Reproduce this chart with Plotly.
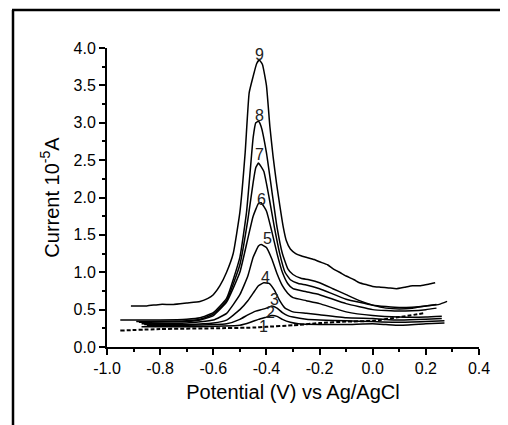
import plotly.graph_objects as go

# curve data (potential V, current 1e-5 A)
x1 = [-0.95, -0.8, -0.6, -0.45, -0.4, -0.3, -0.2, -0.1, 0.0, 0.1, 0.19]
y1 = [0.22, 0.24, 0.25, 0.26, 0.27, 0.29, 0.32, 0.34, 0.35, 0.40, 0.45]

x2 = [-0.87, -0.7, -0.5, -0.46, -0.43, -0.4, -0.38, -0.36, -0.34, -0.31, -0.28, -0.2, -0.1, 0.0, 0.05, 0.1, 0.2, 0.27]
y2 = [0.27, 0.27, 0.29, 0.33, 0.37, 0.40, 0.42, 0.41, 0.37, 0.33, 0.31, 0.30, 0.30, 0.31, 0.30, 0.29, 0.31, 0.32]

x3 = [-0.85, -0.7, -0.55, -0.5, -0.47, -0.44, -0.42, -0.4, -0.38, -0.36, -0.34, -0.32, -0.3, -0.25, -0.2, -0.1, 0.0, 0.1, 0.2, 0.27]
y3 = [0.29, 0.29, 0.31, 0.37, 0.43, 0.48, 0.50, 0.52, 0.55, 0.52, 0.46, 0.42, 0.40, 0.37, 0.36, 0.35, 0.34, 0.33, 0.34, 0.35]

x4 = [-0.86, -0.7, -0.6, -0.55, -0.5, -0.47, -0.45, -0.43, -0.41, -0.39, -0.37, -0.35, -0.33, -0.3, -0.25, -0.2, -0.1, 0.0, 0.1, 0.2, 0.26]
y4 = [0.30, 0.30, 0.32, 0.36, 0.50, 0.62, 0.72, 0.82, 0.86, 0.85, 0.76, 0.62, 0.52, 0.47, 0.45, 0.43, 0.39, 0.38, 0.36, 0.37, 0.38]

x5 = [-0.87, -0.7, -0.6, -0.55, -0.5, -0.47, -0.45, -0.43, -0.42, -0.4, -0.38, -0.36, -0.34, -0.32, -0.3, -0.25, -0.2, -0.1, 0.0, 0.1, 0.2, 0.26]
y5 = [0.31, 0.32, 0.36, 0.45, 0.70, 0.95, 1.20, 1.35, 1.37, 1.33, 1.18, 0.98, 0.82, 0.72, 0.66, 0.62, 0.58, 0.47, 0.42, 0.40, 0.40, 0.41]

x6 = [-0.88, -0.7, -0.65, -0.6, -0.55, -0.5, -0.47, -0.45, -0.43, -0.42, -0.4, -0.38, -0.36, -0.34, -0.32, -0.3, -0.25, -0.2, -0.1, 0.0, 0.1, 0.2, 0.24]
y6 = [0.33, 0.34, 0.36, 0.42, 0.60, 1.00, 1.45, 1.75, 1.92, 1.93, 1.82, 1.55, 1.25, 1.00, 0.85, 0.78, 0.74, 0.70, 0.58, 0.50, 0.48, 0.50, 0.52]

x7 = [-0.89, -0.7, -0.65, -0.6, -0.55, -0.5, -0.47, -0.45, -0.44, -0.43, -0.41, -0.39, -0.37, -0.35, -0.33, -0.31, -0.28, -0.25, -0.2, -0.1, 0.0, 0.1, 0.2, 0.24]
y7 = [0.34, 0.35, 0.37, 0.44, 0.62, 1.10, 1.70, 2.20, 2.40, 2.46, 2.35, 2.00, 1.60, 1.25, 1.00, 0.90, 0.85, 0.83, 0.78, 0.64, 0.56, 0.53, 0.55, 0.57]

x8 = [-0.95, -0.8, -0.7, -0.65, -0.6, -0.55, -0.5, -0.475, -0.46, -0.45, -0.44, -0.43, -0.42, -0.4, -0.38, -0.36, -0.34, -0.32, -0.3, -0.27, -0.24, -0.2, -0.15, -0.1, -0.05, 0.0, 0.05, 0.1, 0.15, 0.2, 0.25, 0.28]
y8 = [0.36, 0.36, 0.37, 0.39, 0.46, 0.65, 1.20, 1.80, 2.40, 2.80, 3.00, 3.02, 2.95, 2.60, 2.10, 1.60, 1.25, 1.05, 0.97, 0.92, 0.90, 0.86, 0.78, 0.70, 0.62, 0.56, 0.52, 0.51, 0.52, 0.55, 0.57, 0.61]

x9 = [-0.91, -0.85, -0.8, -0.75, -0.7, -0.65, -0.62, -0.6, -0.575, -0.55, -0.525, -0.5, -0.48, -0.465, -0.45, -0.437, -0.427, -0.415, -0.4, -0.387, -0.375, -0.362, -0.35, -0.337, -0.325, -0.31, -0.29, -0.27, -0.25, -0.22, -0.2, -0.17, -0.15, -0.12, -0.1, -0.07, -0.05, -0.02, 0.0, 0.03, 0.06, 0.09, 0.12, 0.15, 0.18, 0.21, 0.235]
y9 = [0.55, 0.55, 0.57, 0.57, 0.59, 0.61, 0.65, 0.70, 0.82, 1.00, 1.25, 1.80, 2.60, 3.40, 3.62, 3.79, 3.84, 3.78, 3.50, 2.95, 2.55, 2.19, 1.90, 1.61, 1.42, 1.31, 1.25, 1.22, 1.20, 1.17, 1.14, 1.10, 1.05, 0.99, 0.95, 0.90, 0.86, 0.83, 0.81, 0.80, 0.79, 0.78, 0.80, 0.82, 0.82, 0.84, 0.86]

label_text = ["1", "2", "3", "4", "5", "6", "7", "8", "9"]
label_x = [-0.41, -0.385, -0.37, -0.405, -0.395, -0.42, -0.427, -0.427, -0.425]
label_y = [0.27, 0.46, 0.63, 0.93, 1.45, 1.98, 2.58, 3.1, 3.91]

tick_x = [-1.0, -0.8, -0.6, -0.4, -0.2, 0.0, 0.2, 0.4]
tick_x_text = ["-1.0", "-0.8", "-0.6", "-0.4", "-0.2", "0.0", "0.2", "0.4"]
tick_y = [0, 0.5, 1, 1.5, 2, 2.5, 3, 3.5, 4]
tick_y_text = ["0.0", "0.5", "1.0", "1.5", "2.0", "2.5", "3.0", "3.5", "4.0"]

xs = [x1, x2, x3, x4, x5, x6, x7, x8, x9]
ys = [y1, y2, y3, y4, y5, y6, y7, y8, y9]

fig = go.Figure()
for i, (xx, yy) in enumerate(zip(xs, ys)):
    fig.add_trace(go.Scatter(
        x=xx, y=yy, mode="lines",
        line=dict(color="black", width=2 if i == 0 else 1.5,
                  dash="4px,2px" if i == 0 else "solid", shape="spline", smoothing=0.4),
        showlegend=False, hoverinfo="skip"))

fnt = "Liberation Sans, Arial, sans-serif"
for t, lx, ly in zip(label_text, label_x, label_y):
    fig.add_annotation(x=lx, y=ly, text=t, showarrow=False,
                       font=dict(family=fnt, size=16, color="#222"))

# body has an 8px margin in the page, so offsets are shifted
L, T = 99, 40
PW, PH = 372.0, 298.7
fig.update_layout(
    width=508, height=425,
    margin=dict(l=L, r=508 - L - PW, t=T, b=425 - T - PH),
    paper_bgcolor="white", plot_bgcolor="white",
    font=dict(family=fnt, color="black"),
    xaxis=dict(range=[-1.0, 0.4], tickvals=tick_x, ticktext=tick_x_text,
               showgrid=False, zeroline=False, showline=True, linecolor="black", linewidth=2,
               ticks="outside", ticklen=6, tickwidth=2, tickcolor="black",
               minor=dict(dtick=0.1, ticks="outside", ticklen=3, tickwidth=1.5, tickcolor="black"),
               tickfont=dict(size=16),
               title=dict(text="Potential (V) vs Ag/AgCl", font=dict(size=20), standoff=9)),
    yaxis=dict(range=[0, 4.0], tickvals=tick_y, ticktext=tick_y_text,
               showgrid=False, zeroline=False, showline=True, linecolor="black", linewidth=2,
               ticks="outside", ticklen=6, tickwidth=2, tickcolor="black",
               minor=dict(dtick=0.25, ticks="outside", ticklen=3, tickwidth=1.5, tickcolor="black"),
               tickfont=dict(size=16),
               title=dict(text="Current 10<sup>-5</sup>A", font=dict(size=20), standoff=9)),
)

# outer frame (left, top, right edges), page coords minus the 8px body offset
def px(xp):
    return (xp - 8 - L) / PW
def py(yp):
    return (T + PH - (yp - 8)) / PH
fig.add_shape(type="line", xref="paper", yref="paper", x0=px(13), x1=px(13), y0=py(10), y1=py(440),
              line=dict(color="black", width=2.5))
fig.add_shape(type="line", xref="paper", yref="paper", x0=px(12), x1=px(505), y0=py(10), y1=py(10),
              line=dict(color="black", width=2.5))
fig.add_shape(type="line", xref="paper", yref="paper", x0=px(505), x1=px(505), y0=py(10), y1=py(440),
              line=dict(color="black", width=2.5))

fig.write_html("out.html")
